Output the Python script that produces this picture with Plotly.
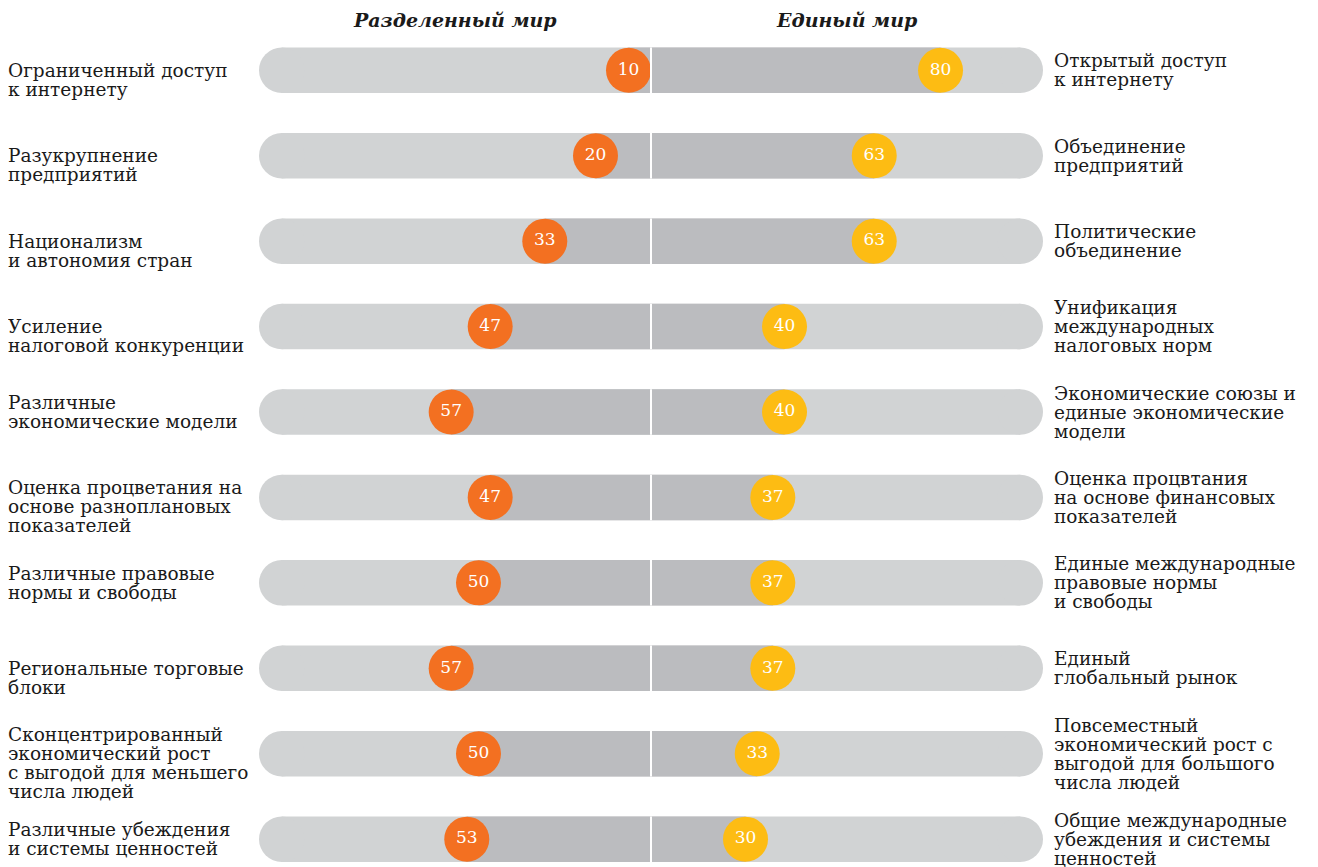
import plotly.graph_objects as go

# данные
left_labels = [
    "Ограниченный доступ\nк интернету",
    "Разукрупнение\nпредприятий",
    "Национализм\nи автономия стран",
    "Усиление\nналоговой конкуренции",
    "Различные\nэкономические модели",
    "Оценка процветания на\nоснове разноплановых\nпоказателей",
    "Различные правовые\nнормы и свободы",
    "Региональные торговые\nблоки",
    "Сконцентрированный\nэкономический рост\nс выгодой для меньшего\nчисла людей",
    "Различные убеждения\nи системы ценностей",
]
right_labels = [
    "Открытый доступ\nк интернету",
    "Объединение\nпредприятий",
    "Политические\nобъединение",
    "Унификация\nмеждународных\nналоговых норм",
    "Экономические союзы и\nединые экономические\nмодели",
    "Оценка процвтания\nна основе финансовых\nпоказателей",
    "Единые международные\nправовые нормы\nи свободы",
    "Единый\nглобальный рынок",
    "Повсеместный\nэкономический рост с\nвыгодой для большого\nчисла людей",
    "Общие международные\nубеждения и системы\nценностей",
]
left_values = [10, 20, 33, 47, 57, 47, 50, 57, 50, 53]
right_values = [80, 63, 63, 40, 40, 37, 37, 37, 33, 30]
header_left = "Разделенный мир"
header_right = "Единый мир"

# оформление
LIGHT = "#d1d3d4"
DARK = "#bbbcbf"
ORANGE = "#f37021"
YELLOW = "#fdbc13"
TEXT = "#1a1a1a"
FONT = "DejaVu Serif"

OFF = 8                           # отступ body в браузере
W, H = 1318 - OFF, 867 - OFF
ML, MT, MB = 259 - OFF, 40 - OFF, 0
PLOT_W = 784
MR = W - ML - PLOT_W
XMAX = 100.5                      # половина шкалы (0..100 + запас)
PX_PER_X = PLOT_W / (2 * XMAX)
Y_RANGE = [9.326, -0.3547]
PX_PER_ROW = (H - MT - MB) / (Y_RANGE[0] - Y_RANGE[1])
BAR_H = 45.5 / PX_PER_ROW
DOT = 45                          # диаметр кружка, px
R = (DOT / 2) / PX_PER_X          # радиус в единицах шкалы
CAP = 22.75 / PX_PER_X
LINE_PX = 19
# сдвиг левых подписей на пол-строки вниз
left_shift = [1, 1, 1, 1, 0, 1, 0, 1, 1, 0]

rows = list(range(len(left_values)))
# центр кружка: внешний край на значении, но не заходит за центр
left_pos = [-max(v - R, R) for v in left_values]
right_pos = [max(v - R, R) for v in right_values]

fig = go.Figure()

# закругленные концы светлых полос
fig.add_trace(go.Scatter(
    x=[-(XMAX - CAP)] * len(rows) + [XMAX - CAP] * len(rows),
    y=rows + rows,
    mode="markers",
    marker=dict(size=45.5, color=LIGHT, line=dict(width=0)),
    hoverinfo="skip", showlegend=False,
))

# темные полосы до кружков
fig.add_trace(go.Bar(
    x=left_pos, y=rows, base=0, orientation="h", width=BAR_H,
    marker=dict(color=DARK, line=dict(width=0)),
    hoverinfo="skip", showlegend=False,
))
fig.add_trace(go.Bar(
    x=right_pos, y=rows, base=0, orientation="h", width=BAR_H,
    marker=dict(color=DARK, line=dict(width=0)),
    hoverinfo="skip", showlegend=False,
))

# кружки со значениями
for pos, vals, col in [(left_pos, left_values, ORANGE), (right_pos, right_values, YELLOW)]:
    fig.add_trace(go.Scatter(
        x=pos, y=rows,
        mode="markers+text",
        marker=dict(size=DOT, color=col, line=dict(width=0)),
        text=[str(v) for v in vals],
        textposition="middle center",
        textfont=dict(family=FONT, size=17, color="white"),
        hovertemplate="%{text}<extra></extra>",
        showlegend=False,
    ))

shapes = []
for i in rows:
    shapes.append(dict(
        type="rect", layer="below", xref="x", yref="y",
        x0=-(XMAX - CAP), x1=XMAX - CAP, y0=i - BAR_H / 2, y1=i + BAR_H / 2,
        fillcolor=LIGHT, line=dict(width=0),
    ))
    shapes.append(dict(
        type="line", layer="above", xref="x", yref="y",
        x0=0, x1=0, y0=i - BAR_H / 2, y1=i + BAR_H / 2,
        line=dict(color="white", width=2),
    ))

annotations = []


def add_label(text, row, x_paper, shift):
    lines = text.split("\n")
    n = len(lines)
    for k, line in enumerate(lines):
        off = (k - (n - 1) / 2) * LINE_PX + shift * LINE_PX / 2
        annotations.append(dict(
            text=line, x=x_paper, xref="paper", xanchor="left",
            y=row, yref="y", yanchor="middle", yshift=-off,
            showarrow=False, align="left",
            font=dict(family=FONT, size=18.5, color=TEXT),
        ))


for i in rows:
    add_label(left_labels[i], i, (6 - OFF - ML) / PLOT_W, left_shift[i])
    add_label(right_labels[i], i, (1052 - OFF - ML) / PLOT_W, 0)

head_y = (H - MB - (20 - OFF)) / (H - MT - MB)
for txt, xc in [(header_left, -XMAX / 2), (header_right, XMAX / 2)]:
    annotations.append(dict(
        text=f"<b><i>{txt}</i></b>", x=xc, xref="x", xanchor="center",
        y=head_y, yref="paper", yanchor="middle",
        showarrow=False,
        font=dict(family=FONT, size=19, color=TEXT),
    ))

fig.update_layout(
    width=W, height=H,
    margin=dict(l=ML, r=MR, t=MT, b=MB),
    plot_bgcolor="white", paper_bgcolor="white",
    barmode="overlay",
    shapes=shapes,
    annotations=annotations,
    xaxis=dict(range=[-XMAX, XMAX], visible=False, fixedrange=True),
    yaxis=dict(range=Y_RANGE, visible=False, fixedrange=True),
    showlegend=False,
)

fig.write_html("out.html")
